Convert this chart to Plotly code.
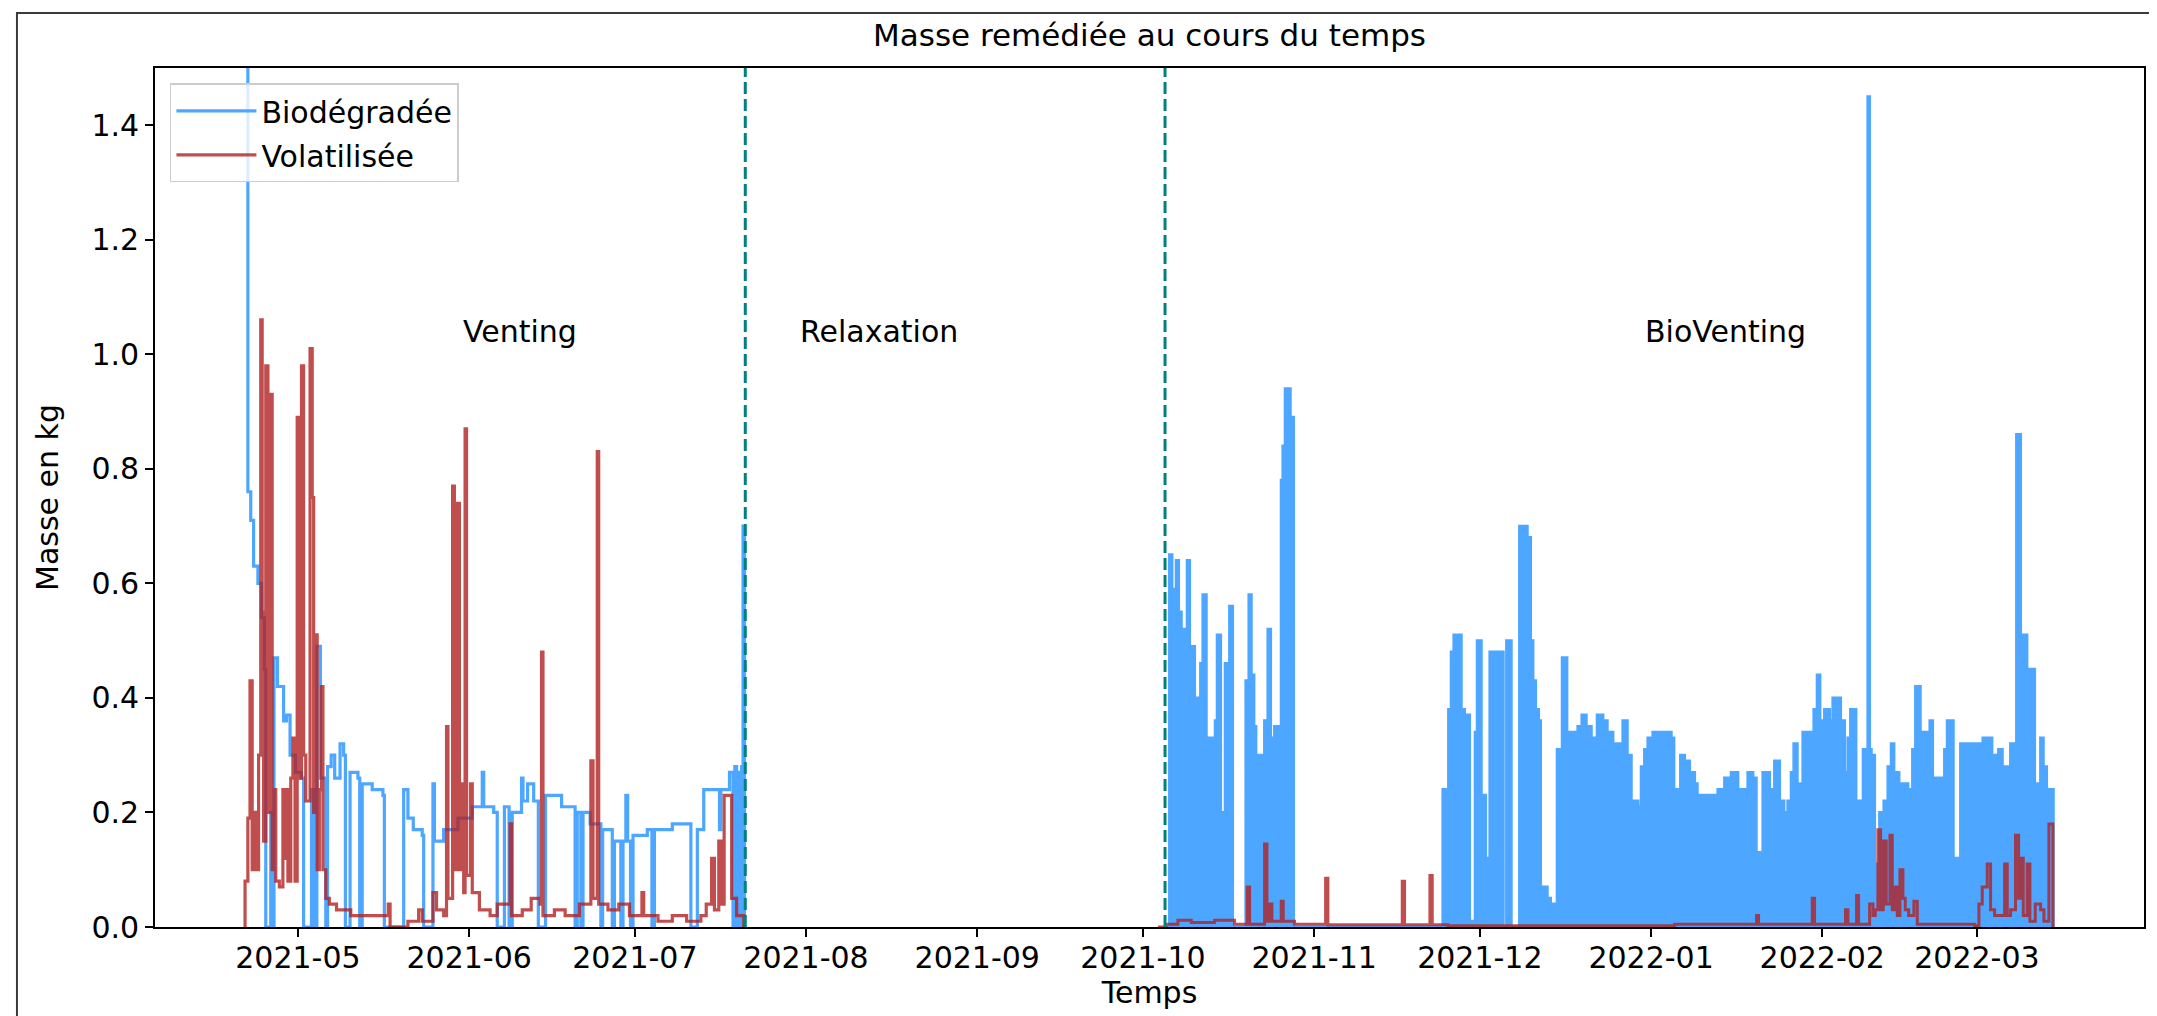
import pandas as pd
import plotly.graph_objects as go

# ==============================================================================
# DATA - days counted from 2021-05-01, masses in kg
# ==============================================================================
BASE_DATE = "2021-05-01"

# Biodégradée - Venting phase
bio_vent_days = [-9.31, -9.06, -8.54, -8.02, -7.24, -6.60, -6.08, -5.82, -4.92, -4.66,
                 -4.33, -3.69, -2.59, -2.07, -1.42, -0.45, 0.65, 1.03, 2.46, 2.85,
                 3.43, 4.08, 5.05, 5.37, 6.02, 6.66, 7.63, 8.28, 8.60, 9.44,
                 10.87, 11.19, 11.64, 13.45, 15.39, 15.65, 19.15, 19.92, 20.89, 22.51,
                 22.77, 24.45, 24.71, 26.39, 28.98, 31.57, 33.38, 33.64, 35.45, 36.09,
                 37.39, 38.23, 38.81, 40.49, 40.75, 41.59, 42.69, 43.53, 44.83, 46.44,
                 47.74, 50.19, 50.58, 51.23, 51.62, 52.91, 54.85, 55.17, 56.92, 57.31,
                 58.47, 58.86, 59.38, 59.70, 60.22, 60.67, 63.26, 64.10, 64.55, 67.79,
                 71.15, 72.32, 73.48, 76.33, 76.58, 78.14, 78.78, 79.11, 79.43, 79.75,
                 80.08, 80.34, 80.60, 80.85]
bio_vent_kg = [1.80, 0.76, 0.71, 0.63, 0.60, 0.54, 0.45, 0.0, 0.20, 0.0,
               0.47, 0.42, 0.36, 0.37, 0.30, 0.27, 0.26, 0.0, 0.24, 0.0,
               0.49, 0.26, 0.0, 0.28, 0.30, 0.26, 0.32, 0.30, 0.0, 0.27,
               0.26, 0.0, 0.25, 0.24, 0.23, 0.0, 0.24, 0.19, 0.17, 0.16,
               0.0, 0.25, 0.15, 0.17, 0.19, 0.21, 0.27, 0.21, 0.20, 0.0,
               0.21, 0.0, 0.20, 0.26, 0.22, 0.25, 0.22, 0.0, 0.23, 0.23,
               0.21, 0.0, 0.20, 0.0, 0.20, 0.18, 0.0, 0.17, 0.0, 0.15,
               0.0, 0.15, 0.23, 0.15, 0.0, 0.16, 0.17, 0.0, 0.17, 0.18,
               0.0, 0.17, 0.24, 0.17, 0.24, 0.27, 0.0, 0.28, 0.0, 0.27,
               0.0, 0.28, 0.70, 0.0]

# Biodégradée - BioVenting phase
bio_days = [157.22, 157.82, 158.25, 159.03, 159.45, 159.94, 161.02, 161.44, 162.35, 162.71,
            163.44, 163.86, 164.46, 164.76, 165.73, 166.09, 166.45, 167.06, 167.90, 168.69,
            169.23, 171.64, 172.19, 172.61, 173.09, 173.45, 173.82, 175.02, 175.63, 176.11,
            176.47, 176.83, 177.80, 178.04, 178.34, 178.76, 179.67, 180.27, 207.31, 207.97,
            208.34, 208.82, 209.30, 210.63, 211.23, 211.53, 212.14, 213.16, 213.53, 214.25,
            215.04, 215.82, 216.97, 217.45, 218.23, 218.84, 219.68, 221.19, 222.58, 223.18,
            223.61, 224.09, 224.63, 224.99, 226.20, 226.80, 227.83, 228.01, 228.92, 229.76,
            231.75, 232.48, 233.26, 234.17, 234.89, 235.25, 236.28, 237.06, 238.09, 238.39,
            239.90, 240.69, 241.41, 242.62, 243.22, 243.82, 244.43, 245.33, 248.65, 249.13,
            250.34, 251.07, 251.97, 252.88, 253.36, 257.10, 258.31, 259.51, 260.72, 262.53,
            263.44, 264.04, 265.25, 266.45, 267.36, 268.27, 269.05, 269.77, 270.38, 270.86,
            271.46, 272.49, 274.48, 275.08, 275.57, 276.41, 277.32, 277.92, 279.31, 280.03,
            280.64, 281.12, 282.09, 283.41, 284.26, 284.56, 284.87, 285.47, 286.38, 287.16,
            287.89, 288.49, 288.97, 289.39, 289.88, 290.18, 291.51, 291.87, 292.35, 292.89,
            293.74, 294.16, 295.49, 295.97, 297.66, 298.14, 298.63, 299.71, 301.04, 302.73,
            303.09, 305.09, 306.71, 307.92, 308.59, 310.09, 311.18, 311.90, 312.27, 313.05,
            313.59, 314.44, 315.53, 316.01, 316.61, 317.09, 317.40, 317.82]
bio_kg = [0.0, 0.65, 0.59, 0.64, 0.55, 0.52, 0.64, 0.49, 0.0, 0.40,
          0.46, 0.58, 0.20, 0.33, 0.0, 0.36, 0.51, 0.20, 0.46, 0.56,
          0.0, 0.43, 0.58, 0.44, 0.35, 0.0, 0.30, 0.36, 0.52, 0.33,
          0.0, 0.35, 0.32, 0.78, 0.84, 0.94, 0.89, 0.0, 0.24, 0.0,
          0.38, 0.48, 0.51, 0.38, 0.0, 0.37, 0.01, 0.34, 0.50, 0.23,
          0.12, 0.48, 0.47, 0.48, 0.0, 0.50, 0.0, 0.70, 0.68, 0.50,
          0.43, 0.38, 0.36, 0.07, 0.05, 0.04, 0.0, 0.31, 0.47, 0.34,
          0.35, 0.37, 0.35, 0.33, 0.28, 0.37, 0.36, 0.34, 0.24, 0.32,
          0.36, 0.30, 0.22, 0.21, 0.28, 0.31, 0.33, 0.34, 0.33, 0.24,
          0.30, 0.29, 0.27, 0.25, 0.23, 0.24, 0.26, 0.27, 0.24, 0.27,
          0.26, 0.13, 0.27, 0.24, 0.29, 0.22, 0.20, 0.22, 0.27, 0.32,
          0.25, 0.34, 0.38, 0.44, 0.36, 0.38, 0.36, 0.40, 0.36, 0.27,
          0.33, 0.38, 0.22, 0.31, 1.45, 0.31, 0.30, 0.11, 0.20, 0.22,
          0.28, 0.32, 0.25, 0.27, 0.02, 0.25, 0.24, 0.10, 0.31, 0.42,
          0.10, 0.34, 0.36, 0.26, 0.10, 0.31, 0.36, 0.12, 0.32, 0.0,
          0.32, 0.33, 0.30, 0.31, 0.28, 0.32, 0.86, 0.32, 0.51, 0.20,
          0.45, 0.25, 0.33, 0.28, 0.24, 0.0, 0.24, 0.0]

# Volatilisée - Venting phase
vol_vent_days = [-9.83, -9.57, -9.06, -8.67, -8.28, -7.89, -7.37, -7.12, -6.73, -6.47,
                 -6.21, -5.82, -5.43, -5.17, -4.66, -4.27, -4.01, -3.36, -2.72, -2.46,
                 -2.20, -1.81, -1.29, -0.91, -0.52, -0.13, 0.26, 0.65, 1.03, 1.42,
                 2.20, 2.59, 2.85, 3.10, 3.49, 3.88, 4.27, 4.53, 5.05, 5.69,
                 6.99, 9.57, 16.36, 16.69, 19.92, 21.86, 22.51, 24.45, 25.10, 26.39,
                 26.91, 27.17, 28.01, 28.33, 28.85, 29.24, 29.62, 30.01, 30.27, 30.53,
                 31.24, 31.57, 32.86, 34.80, 36.09, 38.42, 38.68, 40.62, 42.24, 43.86,
                 44.11, 44.37, 46.44, 48.38, 50.97, 53.04, 53.43, 54.20, 54.46, 56.14,
                 58.09, 60.03, 62.29, 62.61, 65.20, 67.79, 70.38, 72.96, 73.93, 74.90,
                 75.42, 76.20, 76.65, 77.17, 78.53, 79.43, 80.72]
vol_vent_kg = [0.0, 0.08, 0.19, 0.43, 0.10, 0.20, 0.10, 0.30, 1.06, 0.55,
               0.15, 0.98, 0.20, 0.93, 0.10, 0.24, 0.08, 0.07, 0.24, 0.12,
               0.24, 0.08, 0.26, 0.33, 0.08, 0.89, 0.26, 0.98, 0.30, 0.22,
               1.01, 0.75, 0.20, 0.51, 0.10, 0.24, 0.42, 0.10, 0.05, 0.04,
               0.03, 0.02, 0.04, 0.0, 0.01, 0.03, 0.01, 0.06, 0.03, 0.02,
               0.35, 0.05, 0.77, 0.10, 0.74, 0.10, 0.25, 0.06, 0.87, 0.09,
               0.25, 0.06, 0.03, 0.02, 0.04, 0.18, 0.02, 0.03, 0.05, 0.04,
               0.48, 0.02, 0.03, 0.02, 0.04, 0.29, 0.05, 0.83, 0.04, 0.03,
               0.04, 0.02, 0.06, 0.02, 0.01, 0.02, 0.01, 0.02, 0.04, 0.12,
               0.03, 0.15, 0.04, 0.23, 0.05, 0.02, 0.0]

# Volatilisée - BioVenting phase
vol_bio_days = [155.71, 157.22, 159.33, 161.75, 165.97, 169.59, 171.88, 172.31, 175.02, 175.45,
                175.99, 176.35, 178.04, 178.40, 180.45, 186.07, 186.49, 199.95, 200.37, 204.96,
                205.38, 208.22, 249.26, 264.10, 264.46, 274.18, 274.60, 280.21, 280.64, 282.21,
                282.57, 284.57, 285.17, 285.59, 286.07, 286.56, 287.04, 287.58, 288.25, 288.67,
                289.09, 289.58, 290.06, 290.60, 291.02, 291.63, 292.59, 293.20, 303.58, 304.36,
                304.96, 305.87, 306.47, 307.20, 309.01, 309.49, 310.09, 310.98, 311.54, 311.90,
                312.39, 313.11, 313.59, 314.56, 315.53, 316.13, 317.03, 317.76]
vol_bio_kg = [0.0, 0.005, 0.012, 0.008, 0.012, 0.005, 0.07, 0.005, 0.145, 0.01,
              0.04, 0.01, 0.045, 0.01, 0.005, 0.085, 0.004, 0.08, 0.004, 0.09,
              0.004, 0.002, 0.005, 0.02, 0.005, 0.05, 0.005, 0.03, 0.005, 0.055,
              0.005, 0.04, 0.02, 0.03, 0.17, 0.03, 0.15, 0.04, 0.16, 0.03,
              0.07, 0.02, 0.10, 0.05, 0.03, 0.02, 0.045, 0.005, 0.002, 0.04,
              0.07, 0.11, 0.03, 0.02, 0.11, 0.02, 0.03, 0.16, 0.05, 0.12,
              0.02, 0.11, 0.01, 0.04, 0.03, 0.01, 0.18, 0.0]

phase_change_dates = ["2021-07-21", "2021-10-05"]
phase_names = ["Venting", "Relaxation", "BioVenting"]
phase_label_dates = ["2021-06-01", "2021-08-01", "2022-01-01"]
y_ticks = [0.0, 0.2, 0.4, 0.6, 0.8, 1.0, 1.2, 1.4]


def to_dates(days):
    return pd.Timestamp(BASE_DATE) + pd.to_timedelta(days, unit="D")


BLUE = "#4DA6FF"
RED = "rgba(178, 34, 34, 0.8)"
FONT = "DejaVu Sans"
FS = 30

# ==============================================================================
# FIGURE
# ==============================================================================
fig = go.Figure()

fig.add_trace(go.Scatter(
    x=to_dates(bio_vent_days), y=bio_vent_kg, mode="lines", name="Biodégradée",
    line=dict(color=BLUE, width=3.2, shape="hv"), legendgroup="bio"
))
fig.add_trace(go.Scatter(
    x=to_dates(bio_days), y=bio_kg, mode="lines", name="Biodégradée",
    line=dict(color=BLUE, width=3, shape="hv"), fill="tozeroy", fillcolor=BLUE,
    legendgroup="bio", showlegend=False
))
fig.add_trace(go.Scatter(
    x=to_dates(vol_vent_days), y=vol_vent_kg, mode="lines", name="Volatilisée",
    line=dict(color=RED, width=3.2, shape="hv"), legendgroup="vol"
))
fig.add_trace(go.Scatter(
    x=to_dates(vol_bio_days), y=vol_bio_kg, mode="lines", name="Volatilisée",
    line=dict(color=RED, width=3, shape="hv"), legendgroup="vol", showlegend=False
))

# phase boundaries
for d in phase_change_dates:
    fig.add_shape(type="line", x0=d, x1=d, y0=0, y1=1, xref="x", yref="paper",
                  line=dict(color="teal", width=3, dash="12px,5px"))

# phase labels
for name, d in zip(phase_names, phase_label_dates):
    fig.add_annotation(x=d, y=1.04, text=name, showarrow=False, xanchor="left",
                       yanchor="middle", xshift=-8,
                       font=dict(size=FS, color="black", family=FONT))

# outer frame of the picture
fig.add_shape(type="rect", xref="paper", yref="paper", x0=-0.0694, x1=1.0080,
              y0=-0.129, y1=1.064, line=dict(color="#3a3a3a", width=2))

axis_style = dict(
    showgrid=False, zeroline=False, showline=True, mirror=True,
    linecolor="black", linewidth=1.7, ticks="outside", ticklen=8,
    tickwidth=1.7, tickcolor="black",
    tickfont=dict(size=FS, family=FONT, color="black"),
)

fig.update_layout(
    width=2157, height=1016, plot_bgcolor="white", paper_bgcolor="white",
    margin=dict(l=147, r=21, t=60, b=97),
    font=dict(family=FONT, size=FS, color="black"),
    title=dict(text="Masse remédiée au cours du temps", x=0.5, xref="paper",
               y=1 - 27 / 1016, yanchor="middle", font=dict(size=31)),
    legend=dict(x=0.0075, y=0.982, xanchor="left", yanchor="top",
                bgcolor="rgba(255,255,255,0.8)", bordercolor="#CCCCCC", borderwidth=1.5,
                font=dict(size=FS), tracegroupgap=2, itemwidth=80),
    xaxis=dict(
        type="date", range=["2021-04-05 03:00", "2022-03-31 06:00"],
        dtick="M1", tick0="2021-05-01", tickformat="%Y-%m",
        ticklabelstandoff=-5,
        title=dict(text="Temps", standoff=0, font=dict(size=FS)),
        **axis_style
    ),
    yaxis=dict(
        range=[0, 1.5], tickvals=y_ticks, tickformat=".1f",
        title=dict(text="Masse en kg", standoff=24, font=dict(size=FS)),
        **axis_style
    ),
)

fig.write_html("out.html")
